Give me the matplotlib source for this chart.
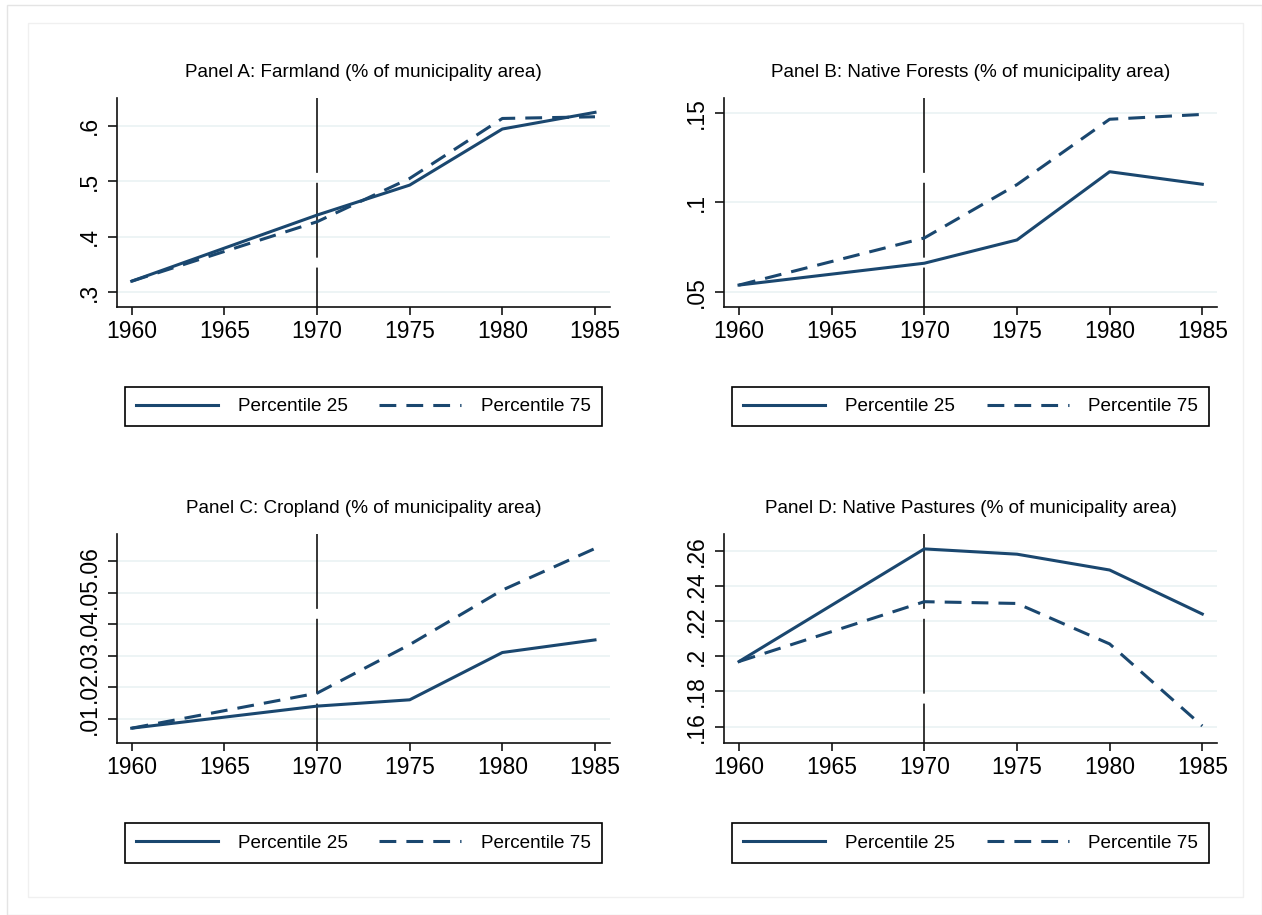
import matplotlib
matplotlib.use("Agg")
import matplotlib.pyplot as plt
from matplotlib.patches import Rectangle
from matplotlib.ticker import FixedLocator, FuncFormatter

plt.rcParams['font.family'] = ['Liberation Sans', 'DejaVu Sans']

# data
years = [1960, 1970, 1975, 1980, 1985]
xticks = [1960, 1965, 1970, 1975, 1980, 1985]

titles = ["Panel A: Farmland (% of municipality area)",
          "Panel B: Native Forests (% of municipality area)",
          "Panel C: Cropland (% of municipality area)",
          "Panel D: Native Pastures (% of municipality area)"]

farm_p25 = [0.320, 0.439, 0.493, 0.594, 0.624]
farm_p75 = [0.320, 0.427, 0.505, 0.613, 0.616]
forest_p25 = [0.0537, 0.0659, 0.0789, 0.117, 0.110]
forest_p75 = [0.0537, 0.0800, 0.1098, 0.1463, 0.149]
crop_p25 = [0.007, 0.014, 0.016, 0.031, 0.035]
crop_p75 = [0.007, 0.0181, 0.0335, 0.0508, 0.064]
past_p25 = [0.197, 0.261, 0.258, 0.249, 0.224]
past_p75 = [0.197, 0.231, 0.230, 0.207, 0.1604]

yticks = [[0.3, 0.4, 0.5, 0.6],
          [0.05, 0.1, 0.15],
          [0.01, 0.02, 0.03, 0.04, 0.05, 0.06],
          [0.16, 0.18, 0.2, 0.22, 0.24, 0.26]]
ylims = [(0.2735, 0.6493), (0.04145, 0.158), (0.0023, 0.0685), (0.1507, 0.2693)]

series = [(farm_p25, farm_p75), (forest_p25, forest_p75),
          (crop_p25, crop_p75), (past_p25, past_p75)]
labels = ["Percentile 25", "Percentile 75"]
treat_year = 1970

navy = '#1a476f'
W, H = 1262, 915

fig = plt.figure(figsize=(W / 100, H / 100), dpi=100)

# light outer frames like Stata's graph region
fig.patches.append(Rectangle((7 / W, 0), (W - 7.5) / W, 1 - 5 / H, transform=fig.transFigure,
                             fill=False, edgecolor='#e4e4e4', lw=1.0))
fig.patches.append(Rectangle((28 / W, 1 - 897 / H), (1243 - 28) / W, (897 - 23) / H,
                             transform=fig.transFigure, fill=False, edgecolor='#f0f0f0', lw=1.0))

lefts = [116.7, 724, 116.7, 724]
tops = [98.3, 98.3, 534.3, 534.3]
aw, ah = 610 - 116.7, 307 - 98.3
leg_cy = [406.5, 406.5, 843, 843]

fmt = FuncFormatter(lambda v, p: ('%g' % v).lstrip('0'))

for i in range(4):
    ax = fig.add_axes([lefts[i] / W, 1 - (tops[i] + ah) / H, aw / W, ah / H])
    p25, p75 = series[i]
    ax.plot(years, p25, color=navy, lw=2.2, label=labels[0], zorder=3)
    ax.plot(years, p75, color=navy, lw=2.2, ls=(0, (5.5, 3.3)), label=labels[1], zorder=3)
    ax.axvline(treat_year, ymin=1, ymax=0, color='black', lw=1.1, ls=(0, (49, 6.5)), zorder=2)

    ax.set_xlim(1959.19, 1985.81)
    ax.set_ylim(*ylims[i])
    ax.xaxis.set_major_locator(FixedLocator(xticks))
    ax.yaxis.set_major_locator(FixedLocator(yticks[i]))
    ax.yaxis.set_major_formatter(fmt)
    ax.grid(axis='y', color='#eaf2f3', lw=1.2, zorder=0)
    ax.grid(axis='x', visible=False)

    for s in ['top', 'right']:
        ax.spines[s].set_visible(False)
    for s in ['left', 'bottom']:
        ax.spines[s].set_linewidth(1.2)
        ax.spines[s].set_color('#111111')

    ax.tick_params(axis='x', length=5.8, width=1.1, labelsize=16.5, pad=3.5)
    ax.tick_params(axis='y', length=6.5, width=1.1, labelsize=16.5, pad=5, labelrotation=90)
    for t in ax.get_yticklabels():
        t.set_va('center')

    ax.set_title(titles[i], fontsize=13.6, pad=15.6)

    ax.legend(loc='center', bbox_to_anchor=((lefts[i] + aw / 2) / W, 1 - leg_cy[i] / H),
              bbox_transform=fig.transFigure, ncol=2, fontsize=13.6,
              handlelength=4.34, handletextpad=1.04, columnspacing=1.69,
              borderpad=0.6, frameon=True, fancybox=False, edgecolor='black',
              framealpha=1)
    leg = ax.get_legend()
    leg.get_frame().set_linewidth(1.2)

fig.savefig('out.png', dpi=100, facecolor='white')
